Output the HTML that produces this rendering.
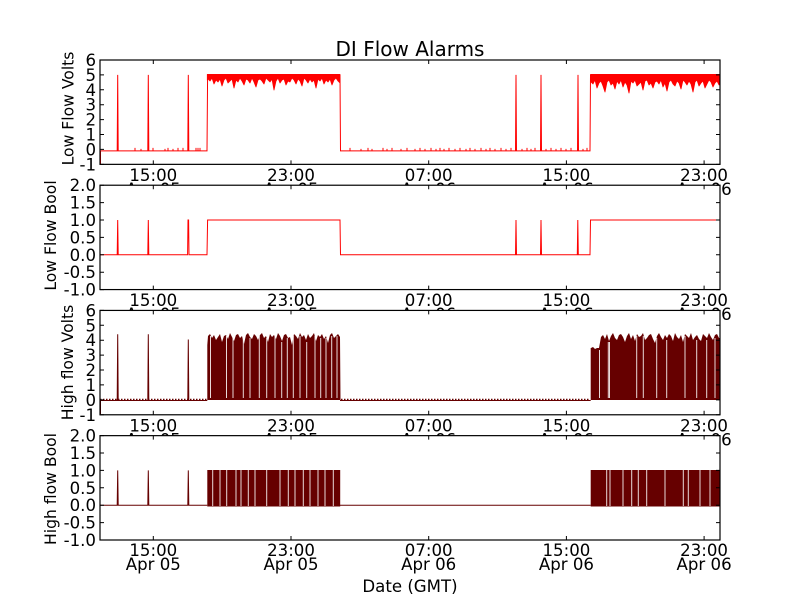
<!DOCTYPE html>
<html><head><meta charset="utf-8"><style>
html,body{margin:0;padding:0;background:#fff;}
svg{display:block;}
text{font-family:"DejaVu Sans","Liberation Sans",sans-serif;fill:#000;}
.t{font-size:16.6px;}
.yl{font-size:15.6px;}
</style></head><body>
<svg width="800" height="600" viewBox="0 0 800 600" xmlns="http://www.w3.org/2000/svg">
<defs>
<clipPath id="c1"><rect x="100" y="60" width="620" height="104.35"/></clipPath>
<clipPath id="c2"><rect x="100" y="185.22" width="620" height="104.35"/></clipPath>
<clipPath id="c3"><rect x="100" y="310.43" width="620" height="104.35"/></clipPath>
<clipPath id="c4"><rect x="100" y="435.65" width="620" height="104.35"/></clipPath>
</defs>
<rect width="800" height="600" fill="#fff"/>
<text x="410" y="56" text-anchor="middle" font-size="20">DI Flow Alarms</text>

<!-- ============ PANEL 1 ============ -->
<g>
<rect x="100" y="60" width="620" height="104.35" fill="#fff"/>
<g clip-path="url(#c1)" fill="none" stroke="#ff0000" stroke-width="1">
<path d="M100.5,164 L100.5,150.9 L117.2,150.9 L117.7,74.9 L118.2,150.9 L147.8,150.9 L148.3,74.9 L148.8,150.9 L187.8,150.9 L188.3,74.9 L188.8,150.9 L207,150.9 L207.6,74.9 M340,74.9 L340.5,150.9 L515.5,150.9 L516,74.9 L516.5,150.9 L540.5,150.9 L541,74.9 L541.5,150.9 L577.5,150.9 L578,74.9 L578.5,150.9 L590,150.9 L590.5,74.9"/>
<path stroke-width="1" d="M135,150.9v-3 M141,150.9v-2 M153,150.9v-3 M165,150.9v-2 M168,150.9v-3 M173,150.9v-2 M178,150.9v-3 M183,150.9v-3 M196,150.9v-3 M198,150.9v-3 M200,150.9v-3 M350,150.9v-3 M361,150.9v-2 M368,150.9v-3 M372,150.9v-2 M383,150.9v-3 M387,150.9v-2 M392,150.9v-3 M401,150.9v-2 M407,150.9v-3 M415,150.9v-2 M420,150.9v-3 M425,150.9v-2 M431,150.9v-3 M436,150.9v-2 M440,150.9v-3 M444,150.9v-2 M449,150.9v-3 M455,150.9v-2 M460,150.9v-3 M466,150.9v-2 M470,150.9v-3 M475,150.9v-2 M481,150.9v-3 M486,150.9v-2 M490,150.9v-3 M495,150.9v-2 M501,150.9v-3 M506,150.9v-2 M511,150.9v-3 M522,150.9v-2 M527,150.9v-3 M531,150.9v-2 M535,150.9v-3 M546,150.9v-2 M551,150.9v-3 M556,150.9v-2 M561,150.9v-3 M566,150.9v-2 M571,150.9v-3 M583,150.9v-2 M587,150.9v-3"/>
<polygon fill="#ff0000" stroke="#ff0000" stroke-width="0.8" stroke-linejoin="round" points="207.3,74.4 207.3,80 208,79 210,81 212,78 214,84 216,80 218,82 220,79 222,86 224,80 226,78 228,83 230,81 232,79 234,88 236,80 238,82 240,78 242,81 244,85 246,79 248,80 250,83 252,78 254,82 256,87 258,80 260,79 262,81 264,84 266,78 268,80 270,82 272,79 274,90 276,81 278,78 280,83 282,80 284,79 286,85 288,81 290,82 292,78 294,80 296,84 298,79 300,81 302,86 304,78 306,80 308,83 310,79 312,82 314,80 316,88 318,79 320,81 322,78 324,84 326,80 328,82 330,79 332,85 334,80 336,78 338,81 340,83 340,74.4"/>
<polygon fill="#ff0000" stroke="#ff0000" stroke-width="0.8" stroke-linejoin="round" points="590.5,74.4 591,82 593,84 595,80 597,88 599,83 601,81 603,86 605,92 607,82 609,80 611,85 613,83 615,89 617,81 619,84 621,80 623,87 625,82 627,85 629,93 631,81 633,83 635,80 637,86 639,84 641,82 643,90 645,81 647,80 649,85 651,83 653,88 655,82 657,81 659,84 661,80 663,87 665,83 667,91 669,82 671,80 673,84 675,86 677,81 679,83 681,89 683,80 685,82 687,85 689,81 691,84 693,92 695,82 697,80 699,86 701,83 703,81 705,88 707,84 709,80 711,82 713,87 715,83 717,81 719,85 720,84 720,74.4"/>
</g>
<rect x="100" y="60" width="620" height="104.35" fill="none" stroke="#000" stroke-width="1.2"/>
<g stroke="#000" stroke-width="1">
<path d="M153.3,164.35v-4 M291,164.35v-4 M428.7,164.35v-4 M566.4,164.35v-4 M704.1,164.35v-4 M153.3,60v4 M291,60v4 M428.7,60v4 M566.4,60v4 M704.1,60v4"/>
<path d="M100,60h4 M100,74.9h4 M100,89.8h4 M100,104.7h4 M100,119.6h4 M100,134.5h4 M100,149.4h4 M100,164.35h4 M720,60h-4 M720,74.9h-4 M720,89.8h-4 M720,104.7h-4 M720,119.6h-4 M720,134.5h-4 M720,149.4h-4 M720,164.35h-4"/>
</g>
<g class="t" text-anchor="end">
<text x="96" y="66">6</text><text x="96" y="80.9">5</text><text x="96" y="95.8">4</text><text x="96" y="110.7">3</text><text x="96" y="125.6">2</text><text x="96" y="140.5">1</text><text x="96" y="155.4">0</text><text x="96" y="170.3">-1</text>
</g>
<g class="t" text-anchor="middle">
<text x="153.3" y="181">15:00</text><text x="153.3" y="195">Apr 05</text>
<text x="291" y="181">23:00</text><text x="291" y="195">Apr 05</text>
<text x="428.7" y="181">07:00</text><text x="428.7" y="195">Apr 06</text>
<text x="566.4" y="181">15:00</text><text x="566.4" y="195">Apr 06</text>
<text x="704.1" y="181">23:00</text><text x="704.1" y="195">Apr 06</text>
</g>
<text class="yl" transform="translate(73.5,108.5) rotate(-90)" text-anchor="middle">Low Flow Volts</text>
</g>

<!-- ============ PANEL 2 ============ -->
<g>
<rect x="100" y="185.22" width="620" height="104.35" fill="#fff"/>
<g clip-path="url(#c2)" fill="none" stroke="#ff0000" stroke-width="1">
<path d="M100,254.8 L117.2,254.8 L117.7,220 L118.2,254.8 L147.8,254.8 L148.3,220 L148.8,254.8 L187.6,254.8 L188,220 L188.6,220 L189,254.8 L207,254.8 L207.6,220 L340,220 L340.5,254.8 L515.5,254.8 L516,220 L516.5,254.8 L540.5,254.8 L541,220 L541.5,254.8 L577.3,254.8 L577.8,220 L578.3,254.8 L590,254.8 L590.5,220 L720,220"/>
</g>
<rect x="100" y="185.22" width="620" height="104.35" fill="none" stroke="#000" stroke-width="1.2"/>
<g stroke="#000" stroke-width="1">
<path d="M153.3,289.57v-4 M291,289.57v-4 M428.7,289.57v-4 M566.4,289.57v-4 M704.1,289.57v-4 M153.3,185.22v4 M291,185.22v4 M428.7,185.22v4 M566.4,185.22v4 M704.1,185.22v4"/>
<path d="M100,185.22h4 M100,202.6h4 M100,220h4 M100,237.4h4 M100,254.8h4 M100,272.2h4 M100,289.57h4 M720,185.22h-4 M720,202.6h-4 M720,220h-4 M720,237.4h-4 M720,254.8h-4 M720,272.2h-4 M720,289.57h-4"/>
</g>
<g class="t" text-anchor="end">
<text x="96" y="191.2">2.0</text><text x="96" y="208.6">1.5</text><text x="96" y="226">1.0</text><text x="96" y="243.4">0.5</text><text x="96" y="260.8">0.0</text><text x="96" y="278.2">-0.5</text><text x="96" y="295.6">-1.0</text>
</g>
<g class="t" text-anchor="middle">
<text x="153.3" y="306.2">15:00</text><text x="153.3" y="320.2">Apr 05</text>
<text x="291" y="306.2">23:00</text><text x="291" y="320.2">Apr 05</text>
<text x="428.7" y="306.2">07:00</text><text x="428.7" y="320.2">Apr 06</text>
<text x="566.4" y="306.2">15:00</text><text x="566.4" y="320.2">Apr 06</text>
<text x="704.1" y="306.2">23:00</text><text x="704.1" y="320.2">Apr 06</text>
</g>
<text class="yl" transform="translate(56,235.5) rotate(-90)" text-anchor="middle">Low Flow Bool</text>
</g>

<!-- ============ PANEL 3 ============ -->
<g>
<rect x="100" y="310.43" width="620" height="104.35" fill="#fff"/>
<g clip-path="url(#c3)">
<path fill="none" stroke="#660000" stroke-width="1" d="M100.5,414 L100.5,400.5 L117.2,400.5 L117.7,334.3 L118.2,400.5 L147.8,400.5 L148.3,334.3 L148.8,400.5 L187.8,400.5 L188.3,339.5 L188.8,400.5 L207.3,400.5 M340,400.5 L590.7,400.5"/>
<path fill="none" stroke="#660000" stroke-width="1.2" stroke-dasharray="1.5,1.5" d="M100,399.4 L207,399.4 M341,399.4 L590,399.4"/>
<polygon fill="#660000" points="207.3,400 207.3,345 208,336 210,334 212,338 214,335 216,340 218,337 220,334 222,342 224,336 226,335 228,339 230,333 232,337 234,341 236,335 238,334 240,338 242,336 244,344 246,335 248,333 250,337 252,339 254,334 256,336 258,340 260,335 262,333 264,338 266,336 268,342 270,334 272,337 274,335 276,339 278,333 280,336 282,341 284,335 286,334 288,338 290,337 292,345 294,334 296,336 298,339 300,333 302,337 304,335 306,340 308,334 310,338 312,336 314,333 316,341 318,335 320,337 322,334 324,339 326,336 328,343 330,335 332,333 334,338 336,336 338,334 340,337 340.5,400"/>
<polygon fill="#660000" points="590.7,400 590.7,348 591,348 593,347 595,349 597,348 599,348 601,337 603,335 605,339 607,334 609,341 611,336 613,333 615,338 617,340 619,335 621,334 623,337 625,342 627,336 629,333 631,339 633,335 635,341 637,334 639,337 641,336 643,333 645,340 647,338 649,335 651,334 653,339 655,343 657,336 659,333 661,337 663,340 665,335 667,338 669,334 671,336 673,341 675,333 677,337 679,339 681,335 683,342 685,334 687,336 689,338 691,333 693,340 695,337 697,335 699,339 701,341 703,334 705,336 707,338 709,333 711,337 713,340 715,335 717,334 719,338 720,338 720,400"/>
<path fill="none" stroke="#fff" stroke-width="1" stroke-opacity="0.85" d="M210.5,336v62 M226.5,336v62 M233,338v60 M243.3,338v60 M250,338v60 M259.3,336v62 M266.7,338v60 M275,336v62 M281.7,342v56 M287.3,338v60 M293.3,336v62 M300,336v62 M306.7,342v56 M315,336v62 M320.7,338v60 M326,338v60 M331.7,336v62 M337,336v62 M599.5,350v48 M608.3,342v56 M609.5,342v56 M636.7,336v62 M643.3,336v62 M656.7,338v60 M666.7,340v58 M685,336v62 M696.7,340v58 M706.7,340v58 M715,338v60"/>
</g>
<rect x="100" y="310.43" width="620" height="104.35" fill="none" stroke="#000" stroke-width="1.2"/>
<g stroke="#000" stroke-width="1">
<path d="M153.3,414.78v-4 M291,414.78v-4 M428.7,414.78v-4 M566.4,414.78v-4 M704.1,414.78v-4 M153.3,310.43v4 M291,310.43v4 M428.7,310.43v4 M566.4,310.43v4 M704.1,310.43v4"/>
<path d="M100,310.43h4 M100,325.3h4 M100,340.2h4 M100,355.1h4 M100,370h4 M100,384.9h4 M100,399.9h4 M100,414.78h4 M720,310.43h-4 M720,325.3h-4 M720,340.2h-4 M720,355.1h-4 M720,370h-4 M720,384.9h-4 M720,399.9h-4 M720,414.78h-4"/>
</g>
<g class="t" text-anchor="end">
<text x="96" y="316.4">6</text><text x="96" y="331.3">5</text><text x="96" y="346.2">4</text><text x="96" y="361.1">3</text><text x="96" y="376">2</text><text x="96" y="390.9">1</text><text x="96" y="405.9">0</text><text x="96" y="420.8">-1</text>
</g>
<g class="t" text-anchor="middle">
<text x="153.3" y="431.4">15:00</text><text x="153.3" y="445.4">Apr 05</text>
<text x="291" y="431.4">23:00</text><text x="291" y="445.4">Apr 05</text>
<text x="428.7" y="431.4">07:00</text><text x="428.7" y="445.4">Apr 06</text>
<text x="566.4" y="431.4">15:00</text><text x="566.4" y="445.4">Apr 06</text>
<text x="704.1" y="431.4">23:00</text><text x="704.1" y="445.4">Apr 06</text>
</g>
<text class="yl" transform="translate(73,362.5) rotate(-90)" text-anchor="middle">High flow Volts</text>
</g>

<!-- ============ PANEL 4 ============ -->
<g>
<rect x="100" y="435.65" width="620" height="104.35" fill="#fff"/>
<g clip-path="url(#c4)">
<path fill="none" stroke="#660000" stroke-width="1" d="M100,505.2 L117.2,505.2 L117.7,470.4 L118.2,505.2 L147.8,505.2 L148.3,470.4 L148.8,505.2 L187.8,505.2 L188.3,470.4 L188.8,505.2 L207.3,505.2 M340,505.2 L590.7,505.2"/>
<rect x="207.3" y="470" width="132.9" height="36.5" fill="#660000"/>
<rect x="590.7" y="470" width="129.3" height="36.5" fill="#660000"/>
<path fill="none" stroke="#fff" stroke-width="1" stroke-opacity="0.85" d="M212.7,470v36 M220,470v36 M226.7,470v36 M236,470v36 M241,470v36 M248.3,470v36 M255,470v36 M266.7,470v36 M280,470v36 M288.3,470v36 M295,470v36 M303.3,470v36 M310,470v36 M318,470v36 M325,470v36 M333.3,470v36 M606.7,470v36 M610,470v36 M623,470v36 M631.7,470v36 M638.3,470v36 M646.7,470v36 M665,470v36 M683.3,470v36 M688.3,470v36 M700,470v36 M710,470v36"/>
</g>
<rect x="100" y="435.65" width="620" height="104.35" fill="none" stroke="#000" stroke-width="1.2"/>
<g stroke="#000" stroke-width="1">
<path d="M153.3,540v-4 M291,540v-4 M428.7,540v-4 M566.4,540v-4 M704.1,540v-4 M153.3,435.65v4 M291,435.65v4 M428.7,435.65v4 M566.4,435.65v4 M704.1,435.65v4"/>
<path d="M100,435.65h4 M100,453h4 M100,470.4h4 M100,487.8h4 M100,505.2h4 M100,522.6h4 M100,540h4 M720,435.65h-4 M720,453h-4 M720,470.4h-4 M720,487.8h-4 M720,505.2h-4 M720,522.6h-4 M720,540h-4"/>
</g>
<g class="t" text-anchor="end">
<text x="96" y="441.6">2.0</text><text x="96" y="459">1.5</text><text x="96" y="476.4">1.0</text><text x="96" y="493.8">0.5</text><text x="96" y="511.2">0.0</text><text x="96" y="528.6">-0.5</text><text x="96" y="546">-1.0</text>
</g>
<g class="t" text-anchor="middle">
<text x="153.3" y="556">15:00</text><text x="153.3" y="569.8">Apr 05</text>
<text x="291" y="556">23:00</text><text x="291" y="569.8">Apr 05</text>
<text x="428.7" y="556">07:00</text><text x="428.7" y="569.8">Apr 06</text>
<text x="566.4" y="556">15:00</text><text x="566.4" y="569.8">Apr 06</text>
<text x="704.1" y="556">23:00</text><text x="704.1" y="569.8">Apr 06</text>
</g>
<text class="yl" transform="translate(56,489) rotate(-90)" text-anchor="middle">High flow Bool</text>
</g>

<text class="t" x="410" y="592" text-anchor="middle">Date (GMT)</text>
</svg>
</body></html>
